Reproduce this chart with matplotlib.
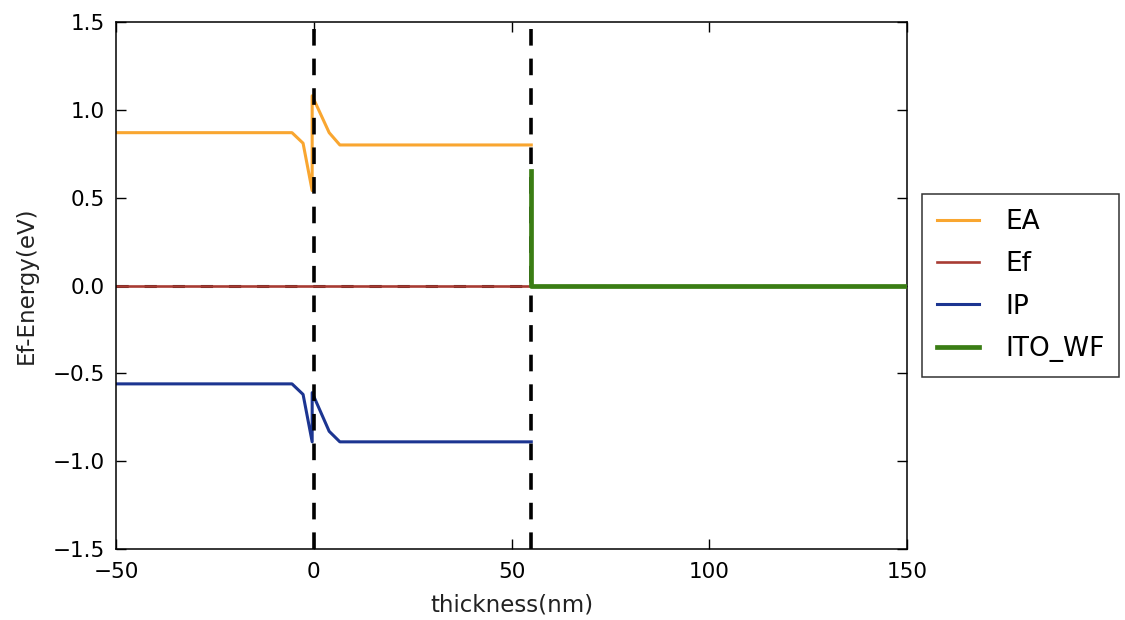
import matplotlib
matplotlib.use("Agg")
import matplotlib.pyplot as plt

# Band-edge profile across the layer stack
ea_x = [-50, -5.5, -2.7, -0.4, -0.4, 3.9, 6.6, 55]
ea_y = [0.87, 0.87, 0.81, 0.54, 1.08, 0.87, 0.80, 0.80]

ip_x = [-50, -5.5, -2.7, -0.4, -0.4, 3.9, 6.6, 55]
ip_y = [-0.56, -0.56, -0.62, -0.89, -0.61, -0.83, -0.89, -0.89]

ef_x = [-50, 55]
ef_y = [0.0, 0.0]

ito_x = [55, 55, 150]
ito_y = [0.65, 0.0, 0.0]

interfaces = [0, 55]

x_ticks = [-50, 0, 50, 100, 150]
y_ticks = [-1.5, -1.0, -0.5, 0.0, 0.5, 1.0, 1.5]


def fmt(v, nd):
    s = f"{v:.{nd}f}"
    return s.replace("-", "\u2212")


plt.rcParams["font.family"] = ["DejaVu Sans"]

fig = plt.figure(figsize=(11.25, 6.2), dpi=100)
ax = fig.add_axes([116 / 1125, 1 - 549 / 620, (907 - 116) / 1125, (549 - 22) / 620])

ax.plot([-50, 150], [-0.004, -0.004], color="black", lw=2.2, dashes=(4.0, 5.2), zorder=1)
ax.plot(ea_x, ea_y, color="#f9a630", lw=2.2, label="EA", zorder=2)
ax.plot(ef_x, ef_y, color="#a83b33", lw=1.9, label="Ef", zorder=2)
ax.plot(ip_x, ip_y, color="#1c3591", lw=2.2, label="IP", zorder=2)
for xv in interfaces:
    ax.axvline(xv, color="black", lw=2.6, dashes=(4.6, 3.6), zorder=3)
ax.plot(ito_x, ito_y, color="#3a7d14", lw=3.4, label="ITO_WF", zorder=4)

ax.set_xlim(-50, 150)
ax.set_ylim(-1.5, 1.5)
ax.set_xticks(x_ticks)
ax.set_yticks(y_ticks)
ax.set_xticklabels([fmt(t, 0) for t in x_ticks])
ax.set_yticklabels([fmt(t, 1) for t in y_ticks])
ax.tick_params(direction="in", length=7, width=1, top=True, right=True,
               labelsize=15.5, colors="black")
ax.tick_params(axis="x", pad=9)
ax.tick_params(axis="y", pad=8)
for sp in ax.spines.values():
    sp.set_linewidth(1.1)

ax.set_xlabel("thickness(nm)", fontsize=16.5, color="#222222", labelpad=9)
ax.set_ylabel("Ef-Energy(eV)", fontsize=16.5, color="#222222", labelpad=11)

handles, labels = ax.get_legend_handles_labels()
leg = fig.legend(handles, labels, loc="center left",
                 bbox_to_anchor=(922 / 1125, 1 - 285.5 / 620),
                 borderaxespad=0, fontsize=19, frameon=True, fancybox=False,
                 handlelength=1.6, handletextpad=1.0, borderpad=0.55,
                 labelspacing=0.62)
leg.get_frame().set_edgecolor("black")
leg.get_frame().set_linewidth(1.1)

fig.savefig("out.png", dpi=100)
